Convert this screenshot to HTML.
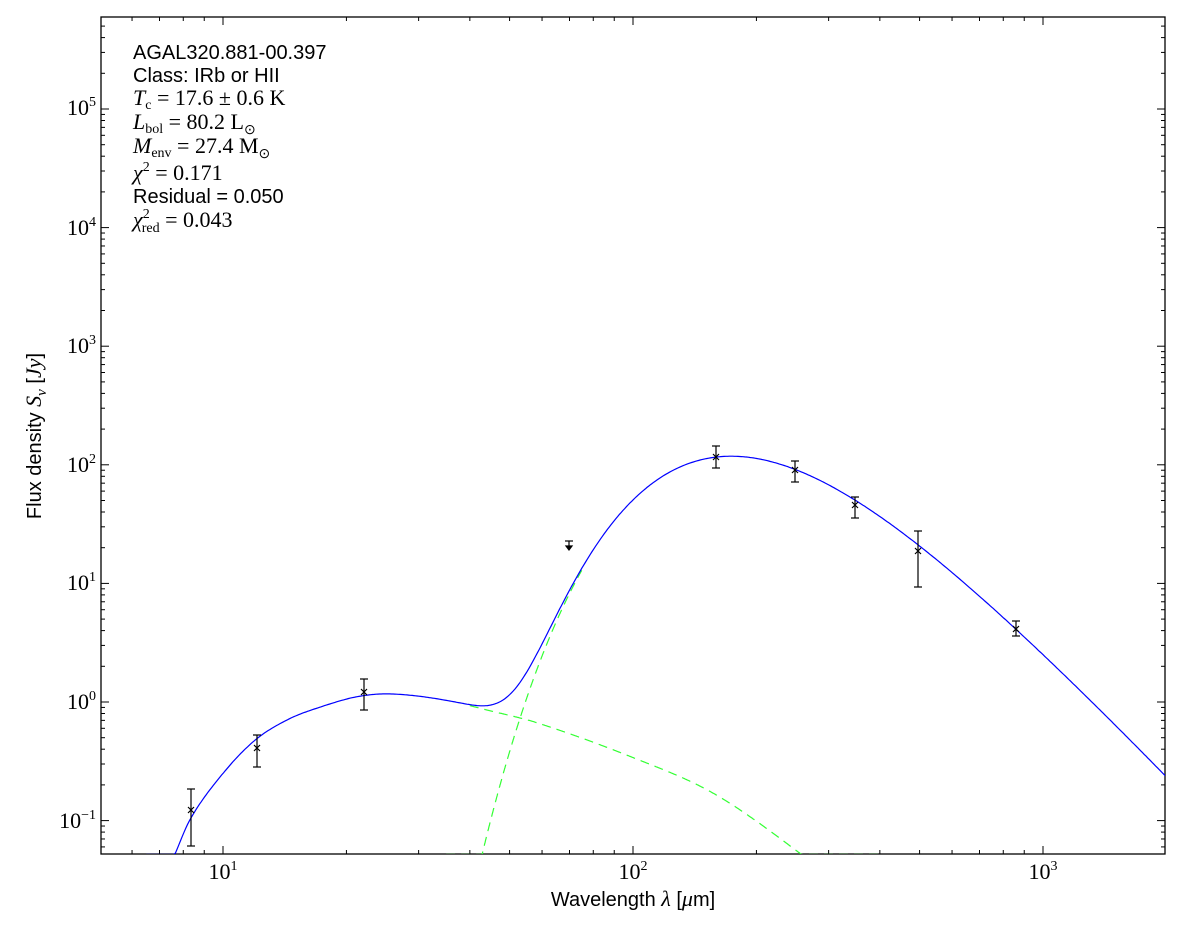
<!DOCTYPE html>
<html><head><meta charset="utf-8"><style>
body{margin:0;background:#fff;width:1200px;height:933px;overflow:hidden}
svg{position:absolute;left:0;top:0}
.t{font-family:"Liberation Serif",serif;font-size:22px}
.s{font-family:"Liberation Sans",sans-serif;font-size:20px}
</style></head><body>
<svg id="g" width="1200" height="933" xmlns="http://www.w3.org/2000/svg">
<rect x="101" y="17" width="1064" height="837" fill="none" stroke="#000" stroke-width="1.3"/>
<g id="ticks" stroke="#000" stroke-width="1"></g>
<g id="curves"></g>
<g class="t" text-anchor="end">
<text x="96" y="115">10<tspan font-size="14" dy="-9">5</tspan></text>
<text x="96" y="235">10<tspan font-size="14" dy="-9">4</tspan></text>
<text x="96" y="353">10<tspan font-size="14" dy="-9">3</tspan></text>
<text x="96" y="472">10<tspan font-size="14" dy="-9">2</tspan></text>
<text x="96" y="590">10<tspan font-size="14" dy="-9">1</tspan></text>
<text x="96" y="709">10<tspan font-size="14" dy="-9">0</tspan></text>
<text x="96" y="828">10<tspan font-size="14" dy="-9">−1</tspan></text>
</g>
<g class="t" text-anchor="middle">
<text x="223" y="879">10<tspan font-size="14" dy="-9">1</tspan></text>
<text x="633" y="879">10<tspan font-size="14" dy="-9">2</tspan></text>
<text x="1043" y="879">10<tspan font-size="14" dy="-9">3</tspan></text>
</g>
<text class="s" x="633" y="906" text-anchor="middle">Wavelength <tspan class="t" font-style="italic">λ</tspan> [<tspan class="t" font-style="italic">μ</tspan>m]</text>
<text class="s" transform="translate(41,436) rotate(-90)" text-anchor="middle">Flux density <tspan class="t" font-style="italic">S<tspan font-size="15" dy="5">ν</tspan></tspan><tspan dy="-5"> [</tspan><tspan class="t" font-style="italic">Jy</tspan>]</text>
<g>
<text class="s" x="133" y="59">AGAL320.881-00.397</text>
<text class="s" x="133" y="82">Class: IRb or HII</text>
<text class="t" x="133" y="105"><tspan font-style="italic">T</tspan><tspan font-size="14" dy="4">c</tspan><tspan dy="-4"> = 17.6 ± 0.6 K</tspan></text>
<text class="t" x="133" y="129"><tspan font-style="italic">L</tspan><tspan font-size="14" dy="4">bol</tspan><tspan dy="-4"> = 80.2 L</tspan><tspan font-size="14" dy="5">⊙</tspan></text>
<text class="t" x="133" y="153"><tspan font-style="italic">M</tspan><tspan font-size="14" dy="4">env</tspan><tspan dy="-4"> = 27.4 M</tspan><tspan font-size="14" dy="5">⊙</tspan></text>
<text class="t" x="133" y="180"><tspan font-style="italic">χ</tspan><tspan font-size="14" dy="-9">2</tspan><tspan dy="9"> = 0.171</tspan></text>
<text class="s" x="133" y="203">Residual = 0.050</text>
<text class="t" x="133" y="227"><tspan font-style="italic">χ</tspan><tspan font-size="14" dy="-9">2</tspan><tspan font-size="14" dx="-8" dy="14">red</tspan><tspan dy="-5"> = 0.043</tspan></text>
</g>
<g stroke="#000" stroke-width="1.2" fill="none" id="pts"></g>
</svg>
<script>
const X=l=>223+410*(Math.log10(l)-1), Y=f=>702-118.6*Math.log10(f);
const NS='http://www.w3.org/2000/svg';
function el(p,n,a){const e=document.createElementNS(NS,n);for(const k in a)e.setAttribute(k,a[k]);p.appendChild(e);return e;}
const tk=document.getElementById('ticks');
for(let d=0;d<4;d++)for(let m=1;m<10;m++){const l=m*Math.pow(10,d);const x=X(l);if(x<101||x>1165)continue;const L=m==1?8:4;
el(tk,'line',{x1:x,y1:854,x2:x,y2:854-L});el(tk,'line',{x1:x,y1:17,x2:x,y2:17+L});}
for(let d=-2;d<6;d++)for(let m=1;m<10;m++){const f=m*Math.pow(10,d);const y=Y(f);if(y<17||y>854)continue;const L=m==1?8:4;
el(tk,'line',{x1:101,y1:y,x2:101+L,y2:y});el(tk,'line',{x1:1165,y1:y,x2:1165-L,y2:y});}
const W=[[6.5,0.015],[7.5,0.045],[8.35,0.105],[10,0.25],[12,0.48],[14.5,0.72],[17.5,0.92],[21,1.1],[24.7,1.17],[30,1.12],[36.6,1.0],[43.8,0.86],[59,0.66],[100,0.34],[157,0.17],[250,0.056],[400,0.015],[700,0.003]].map(p=>[Math.log10(p[0]),Math.log10(p[1])]);
function warm(l){const L=Math.log10(l);const n=W.length;
for(let i=0;i<n-1;i++){if(L<=W[i+1][0]||i==n-2){const p0=W[Math.max(i-1,0)],p1=W[i],p2=W[i+1],p3=W[Math.min(i+2,n-1)];
const h=p2[0]-p1[0];const t=(L-p1[0])/h;
const m1=(p2[1]-p0[1])/(p2[0]-p0[0])*h, m2=(p3[1]-p1[1])/(p3[0]-p1[0])*h;
const t2=t*t,t3=t2*t;
const v=(2*t3-3*t2+1)*p1[1]+(t3-2*t2+t)*m1+(-2*t3+3*t2)*p2[1]+(t3-t2)*m2;return Math.pow(10,v);}}}
const cf=l=>Math.pow(l,-4.75)/(Math.exp(817.5/l)-1);
let mx=0;for(let l=100;l<300;l+=0.5)mx=Math.max(mx,cf(l));
const cold=l=>118*cf(l)/mx;
const cv=document.getElementById('curves');
function path(fn,l0,l1,attrs){let d='';for(let i=0;i<=600;i++){const l=l0*Math.pow(l1/l0,i/600);const v=fn(l);if(!(v>0))continue;let y=Y(v);if(y>854)y=854.5;d+=(d?'L':'M')+X(l).toFixed(1)+' '+y.toFixed(1);}el(cv,'path',Object.assign({d:d,fill:'none'},attrs));}
const clip=el(cv,'clipPath',{id:'c'});el(clip,'rect',{x:101,y:17,width:1064,height:837});
cv.setAttribute('clip-path','url(#c)');
path(warm,40,400,{stroke:'#33ff33','stroke-width':1.2,'stroke-dasharray':'9,6'});
path(cold,35,75,{stroke:'#33ff33','stroke-width':1.2,'stroke-dasharray':'9,6'});
path(l=>warm(l)+cold(l),6.5,2100,{stroke:'#0000ff','stroke-width':1.2});
const P=[[191,810,789,846],[257,748,735,767],[364,692,679,710],[716,457,446,468],[795,470,461,482],[855,505,497,518],[918,551,531,587],[1016,629,621,636]];
const pg=document.getElementById('pts');
P.forEach(p=>{const[x,y,a,b]=p;el(pg,'line',{x1:x,y1:a,x2:x,y2:b});el(pg,'line',{x1:x-4,y1:a,x2:x+4,y2:a});el(pg,'line',{x1:x-4,y1:b,x2:x+4,y2:b});
el(pg,'path',{d:`M${x-3} ${y-3}L${x+3} ${y+3}M${x-3} ${y+3}L${x+3} ${y-3}`});});
el(pg,'line',{x1:565,y1:541,x2:573,y2:541});el(pg,'line',{x1:569,y1:541,x2:569,y2:549});
el(pg,'path',{d:'M566 546L569 550L572 546Z',fill:'#000'});
</script>
</body></html>
